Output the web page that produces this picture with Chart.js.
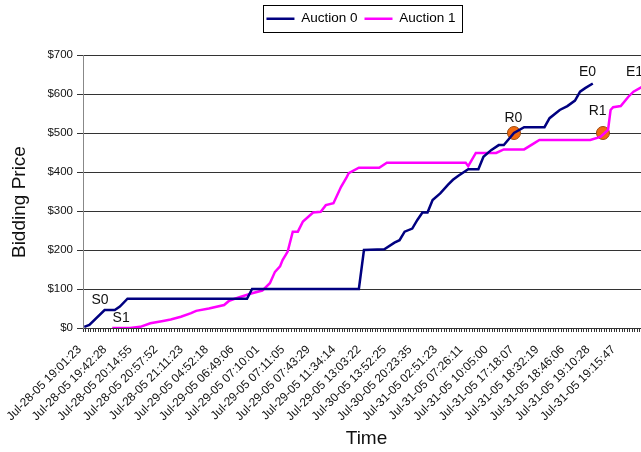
<!DOCTYPE html>
<html><head><meta charset="utf-8">
<script src="https://cdn.jsdelivr.net/npm/chart.js@4.4.1/dist/chart.umd.min.js"></script>
<style>
html,body{margin:0;padding:0;overflow:hidden;background:#fff;width:641px;height:452px}
#wrap{width:722px;height:452px}
</style>
</head><body><div id="wrap"><canvas id="c" width="722" height="452"></canvas></div>
<script>
const timeLabels = [
  'Jul-28-05 19:01:23','Jul-28-05 19:42:28','Jul-28-05 20:14:55','Jul-28-05 20:57:52',
  'Jul-28-05 21:11:23','Jul-29-05 04:52:18','Jul-29-05 06:49:06','Jul-29-05 07:10:01',
  'Jul-29-05 07:11:05','Jul-29-05 07:43:29','Jul-29-05 11:34:14','Jul-29-05 13:03:22',
  'Jul-30-05 13:52:25','Jul-30-05 20:23:35','Jul-31-05 02:51:23','Jul-31-05 07:26:11',
  'Jul-31-05 10:05:00','Jul-31-05 17:18:07','Jul-31-05 18:32:19','Jul-31-05 18:46:06',
  'Jul-31-05 19:10:28','Jul-31-05 19:15:47'
];
const categoryCount = 223;
const labelEvery = 10;

const auction0Index = [0,2,8,12,14,17,64,66,108,110,118,122,124,126,129,131,133,135,137,140,143,145,147,151,155,157,160,163,165,169,173,181,183,187,190,193,195,197,200];
const auction0Price = [3,8,46,46,55,75,75,100,100,200,202,219,225,247,255,277,296,296,328,345,367,380,390,407,407,439,456,469,469,500,515,515,538,559,569,583,606,615,627];

const auction1Index = [11,18,22,26,31,34,38,42,44,49,55,57,61,66,70,73,75,77,78,80,82,84,86,90,93,95,98,101,103,104,108,116,119,144,150,151,154,162,165,173,177,179,199,203,205,206,207,208,211,214,216,219,220];
const auction1Price = [0,0,3,12,18,22,29,38,44,50,59,70,79,89,96,115,144,158,174,196,247,247,273,296,298,315,320,362,384,397,411,411,424,424,424,415,449,449,458,458,474,482,482,490,502,508,559,566,569,593,606,617,620];

const reserveIndex = [169, 204];
const reservePrice = [500, 500];

const noteText  = ['S0','S1','R0','R1','E0','E1'];
const noteIndex = [6.2, 14.5, 168.8, 201.9, 197.9, 216.4];
const notePrice = [72, 26, 538, 556, 656, 656];

const FONT = "'Liberation Sans', Arial, sans-serif";

function sparse(idx, vals) {
  const a = new Array(categoryCount).fill(null);
  idx.forEach((k, i) => { a[k] = vals[i]; });
  return a;
}
const labels = Array.from({length: categoryCount}, (_, i) =>
  (i % labelEvery === 0 && timeLabels[i / labelEvery]) ? timeLabels[i / labelEvery] : '');

const legendFit = {
  id: 'legendFit',
  beforeInit(chart) {
    const lg = chart.legend;
    const f = lg.fit;
    lg.fit = function () { f.call(this); this.height = 50; };
  },
  afterLayout(chart) {
    // centre the legend over the whole (uncropped) chart width
    const lg = chart.legend;
    const shift = (chart.width / 2) - (lg.left + lg.right) / 2;
    lg.left += shift; lg.right += shift;
  }
};
const legendBox = {
  id: 'legendBox',
  afterDraw(chart) {
    const hb = chart.legend.legendHitBoxes;
    if (!hb || !hb.length) return;
    const l = hb[0].left - 3, r = hb[hb.length - 1].left + hb[hb.length - 1].width + 7;
    const t = hb[0].top - 7, b = hb[0].top + hb[0].height + 6;
    const ctx = chart.ctx;
    ctx.save();
    ctx.strokeStyle = '#000';
    ctx.lineWidth = 1;
    ctx.strokeRect(Math.round(l) + 0.5, Math.round(t) + 0.5, Math.round(r - l), Math.round(b - t));
    ctx.restore();
  }
};
const notes = {
  id: 'notes',
  afterDatasetsDraw(chart) {
    const ctx = chart.ctx, xs = chart.scales.x, ys = chart.scales.y;
    ctx.save();
    ctx.font = '14px ' + FONT;
    ctx.fillStyle = '#111';
    ctx.textAlign = 'center';
    ctx.textBaseline = 'middle';
    noteText.forEach((t, i) => {
      ctx.fillText(t, xs.getPixelForValue(noteIndex[i]), ys.getPixelForValue(notePrice[i]));
    });
    ctx.restore();
  }
};

new Chart(document.getElementById('c'), {
  type: 'line',
  data: {
    labels: labels,
    datasets: [
      { label: 'Auction 0', data: sparse(auction0Index, auction0Price), borderColor: '#000080', backgroundColor: '#000080',
        borderWidth: 2.5, pointRadius: 0, spanGaps: true, tension: 0 },
      { label: 'Auction 1', data: sparse(auction1Index, auction1Price), borderColor: '#FF00FF', backgroundColor: '#FF00FF',
        borderWidth: 2.5, pointRadius: 0, spanGaps: true, tension: 0 },
      { label: 'Reserve', data: sparse(reserveIndex, reservePrice), showLine: false, pointRadius: 6.5,
        pointBackgroundColor: '#F26A0F', pointBorderColor: '#9A4A10', pointBorderWidth: 1 }
    ]
  },
  options: {
    responsive: false,
    animation: false,
    events: [],
    layout: { padding: { top: 5, right: 72, left: 8, bottom: 2 } },
    plugins: {
      legend: {
        labels: {
          filter: item => item.datasetIndex < 2,
          usePointStyle: true, pointStyle: 'line', pointStyleWidth: 28,
          font: { family: FONT, size: 13.5 }, color: '#000', padding: 7
        }
      },
      tooltip: { enabled: false }
    },
    scales: {
      x: {
        offset: true,
        afterFit(s) { s.height = 122; },
        grid: { offset: true, drawOnChartArea: false, tickLength: 4, color: '#333' },
        border: { color: '#333' },
        ticks: { autoSkip: false, maxRotation: 45, minRotation: 45, padding: 6,
          callback: (v, i) => labels[i] ? labels[i] + '  ' : '',
          font: { family: FONT, size: 12 }, color: '#111' },
        title: { display: true, text: 'Time', color: '#111', font: { family: FONT, size: 19 }, padding: { top: 4, bottom: 0 } }
      },
      y: {
        min: 0, max: 700,
        afterFit(s) { s.width = 75; },
        ticks: { stepSize: 100, callback: v => '$' + v, padding: 4, font: { family: FONT, size: 11.5 }, color: '#111' },
        grid: { color: '#333', tickLength: 6 },
        border: { color: '#888' },
        title: { display: true, text: 'Bidding Price    ', color: '#111', font: { family: FONT, size: 19 }, padding: { top: 0, bottom: 4 } }
      }
    }
  },
  plugins: [legendFit, legendBox, notes]
});
</script>
</body></html>
